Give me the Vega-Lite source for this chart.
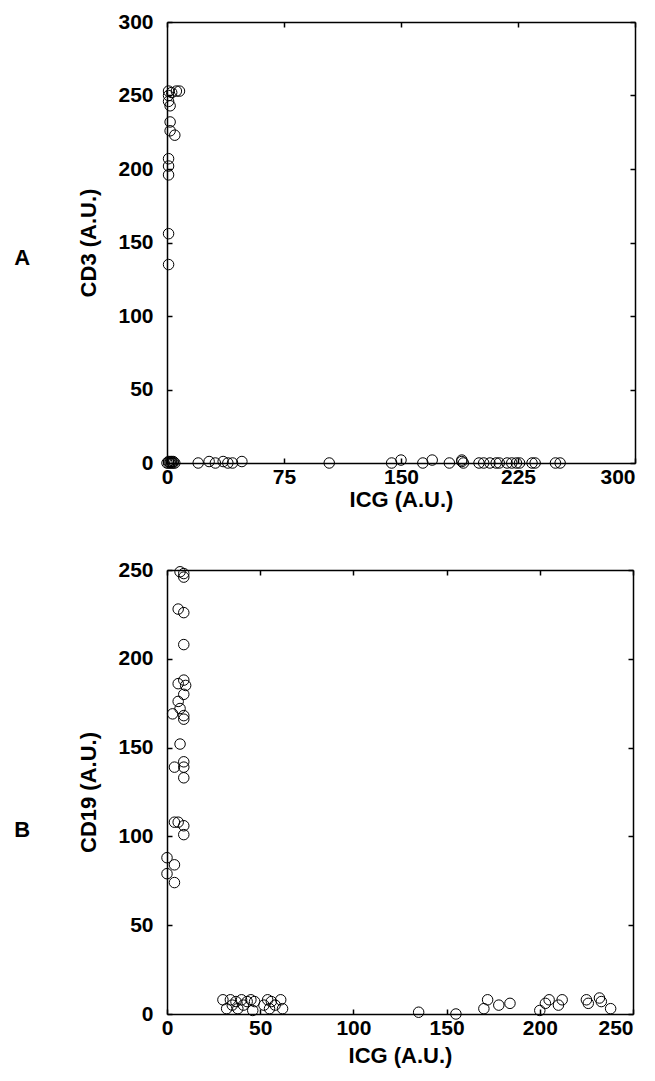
{
  "$schema": "https://vega.github.io/schema/vega-lite/v6.json",
  "background": "white",
  "padding": {"left": 14, "top": 11, "right": 5, "bottom": 5},
  "config": {
    "font": "Liberation Sans",
    "view": {"stroke": null},
    "axis": {
      "grid": false,
      "domainColor": "black",
      "domainWidth": 1.5,
      "tickColor": "black",
      "tickWidth": 1.5,
      "tickSize": -5,
      "labelFlush": false,
      "labelFont": "Liberation Sans",
      "labelFontWeight": "bold",
      "labelFontSize": 21,
      "labelColor": "black",
      "labelPadding": 19,
      "titleFont": "Liberation Sans",
      "titleFontWeight": "bold",
      "titleFontSize": 22,
      "titleColor": "black"
    },
    "axisX": {"labelPadding": 8},
    "axisY": {"titlePadding": 17}
  },
  "datasets": {
    "a": [
      {"ICG": 1, "CD": 253}, {"ICG": 3, "CD": 252}, {"ICG": 6, "CD": 253}, {"ICG": 8, "CD": 253},
      {"ICG": 1, "CD": 250}, {"ICG": 1, "CD": 246}, {"ICG": 2, "CD": 243}, {"ICG": 2, "CD": 232},
      {"ICG": 2, "CD": 226}, {"ICG": 5, "CD": 223}, {"ICG": 1, "CD": 207}, {"ICG": 1, "CD": 202},
      {"ICG": 1, "CD": 196}, {"ICG": 1, "CD": 156}, {"ICG": 1, "CD": 135},
      {"ICG": 0, "CD": 0}, {"ICG": 1, "CD": 1}, {"ICG": 2, "CD": 0}, {"ICG": 3, "CD": 1},
      {"ICG": 4, "CD": 0}, {"ICG": 5, "CD": 0}, {"ICG": 1, "CD": 0}, {"ICG": 3, "CD": 0},
      {"ICG": 2, "CD": 1}, {"ICG": 4, "CD": 1},
      {"ICG": 20, "CD": 0}, {"ICG": 27, "CD": 1}, {"ICG": 31, "CD": 0}, {"ICG": 36, "CD": 1},
      {"ICG": 39, "CD": 0}, {"ICG": 42, "CD": 0}, {"ICG": 48, "CD": 1}, {"ICG": 104, "CD": 0},
      {"ICG": 144, "CD": 0}, {"ICG": 150, "CD": 2}, {"ICG": 164, "CD": 0}, {"ICG": 170, "CD": 2},
      {"ICG": 181, "CD": 0}, {"ICG": 189, "CD": 1}, {"ICG": 189, "CD": 2}, {"ICG": 190, "CD": 0},
      {"ICG": 200, "CD": 0}, {"ICG": 203, "CD": 0}, {"ICG": 207, "CD": 0}, {"ICG": 211, "CD": 0},
      {"ICG": 213, "CD": 0}, {"ICG": 218, "CD": 0}, {"ICG": 221, "CD": 0}, {"ICG": 224, "CD": 0},
      {"ICG": 226, "CD": 0}, {"ICG": 234, "CD": 0}, {"ICG": 236, "CD": 0}, {"ICG": 249, "CD": 0},
      {"ICG": 252, "CD": 0}
    ],
    "b": [
      {"ICG": 7, "CD": 249}, {"ICG": 9, "CD": 248}, {"ICG": 9, "CD": 246}, {"ICG": 6, "CD": 228},
      {"ICG": 9, "CD": 226}, {"ICG": 9, "CD": 208}, {"ICG": 9, "CD": 188}, {"ICG": 6, "CD": 186},
      {"ICG": 10, "CD": 185}, {"ICG": 9, "CD": 180}, {"ICG": 6, "CD": 176}, {"ICG": 7, "CD": 172},
      {"ICG": 3, "CD": 169}, {"ICG": 9, "CD": 168}, {"ICG": 9, "CD": 166}, {"ICG": 7, "CD": 152},
      {"ICG": 9, "CD": 142}, {"ICG": 4, "CD": 139}, {"ICG": 9, "CD": 139}, {"ICG": 9, "CD": 133},
      {"ICG": 4, "CD": 108}, {"ICG": 6, "CD": 108}, {"ICG": 9, "CD": 106}, {"ICG": 9, "CD": 101},
      {"ICG": 0, "CD": 88}, {"ICG": 4, "CD": 84}, {"ICG": 0, "CD": 79}, {"ICG": 4, "CD": 74},
      {"ICG": 30, "CD": 8}, {"ICG": 32, "CD": 3}, {"ICG": 34, "CD": 8}, {"ICG": 35, "CD": 5},
      {"ICG": 37, "CD": 7}, {"ICG": 38, "CD": 3}, {"ICG": 40, "CD": 8}, {"ICG": 41, "CD": 5},
      {"ICG": 43, "CD": 7}, {"ICG": 45, "CD": 8}, {"ICG": 46, "CD": 2}, {"ICG": 47, "CD": 7},
      {"ICG": 52, "CD": 5}, {"ICG": 54, "CD": 8}, {"ICG": 55, "CD": 3}, {"ICG": 56, "CD": 7},
      {"ICG": 58, "CD": 5}, {"ICG": 61, "CD": 8}, {"ICG": 62, "CD": 3},
      {"ICG": 135, "CD": 1}, {"ICG": 155, "CD": 0}, {"ICG": 170, "CD": 3}, {"ICG": 172, "CD": 8},
      {"ICG": 178, "CD": 5}, {"ICG": 184, "CD": 6}, {"ICG": 200, "CD": 2}, {"ICG": 203, "CD": 6},
      {"ICG": 205, "CD": 8}, {"ICG": 210, "CD": 5}, {"ICG": 212, "CD": 8}, {"ICG": 225, "CD": 8},
      {"ICG": 226, "CD": 6}, {"ICG": 232, "CD": 9}, {"ICG": 233, "CD": 7}, {"ICG": 238, "CD": 3}
    ]
  },
  "spacing": 49,
  "vconcat": [
    {
      "title": {"text": "A", "orient": "left", "angle": 0, "fontSize": 22, "fontWeight": "bold", "font": "Liberation Sans", "color": "black", "offset": 40, "dy": 5},
      "width": 468,
      "height": 441,
      "data": {"name": "a"},
      "resolve": {"axis": {"x": "independent", "y": "independent"}},
      "layer": [
        {
          "mark": {"type": "point", "shape": "circle", "filled": false, "color": "black", "size": 110, "strokeWidth": 1, "opacity": 1, "clip": false},
          "encoding": {
            "x": {"field": "ICG", "type": "quantitative", "scale": {"domain": [0, 300], "nice": false, "zero": false, "padding": 0},
                  "axis": {"values": [0, 75, 150, 225, 300], "title": "ICG (A.U.)", "titlePadding": 2,
                           "labelAlign": {"condition": {"test": "datum.value == 300", "value": "right"}, "value": "center"}}},
            "y": {"field": "CD", "type": "quantitative", "scale": {"domain": [0, 300], "nice": false, "zero": false, "padding": 0},
                  "axis": {"values": [0, 50, 100, 150, 200, 250, 300], "title": "CD3 (A.U.)"}}
          }
        },
        {
          "mark": {"type": "point", "opacity": 0},
          "encoding": {
            "x": {"field": "ICG", "type": "quantitative", "scale": {"domain": [0, 300], "nice": false, "zero": false, "padding": 0},
                  "axis": {"orient": "top", "values": [0, 75, 150, 225, 300], "labels": false, "title": null}},
            "y": {"field": "CD", "type": "quantitative", "scale": {"domain": [0, 300], "nice": false, "zero": false, "padding": 0},
                  "axis": {"orient": "right", "values": [0, 50, 100, 150, 200, 250, 300], "labels": false, "title": null}}
          }
        }
      ]
    },
    {
      "title": {"text": "B", "orient": "left", "angle": 0, "fontSize": 22, "fontWeight": "bold", "font": "Liberation Sans", "color": "black", "offset": 40, "dy": 28},
      "width": 466,
      "height": 444,
      "data": {"name": "b"},
      "resolve": {"axis": {"x": "independent", "y": "independent"}},
      "layer": [
        {
          "mark": {"type": "point", "shape": "circle", "filled": false, "color": "black", "size": 110, "strokeWidth": 1, "opacity": 1, "clip": false},
          "encoding": {
            "x": {"field": "ICG", "type": "quantitative", "scale": {"domain": [0, 250], "nice": false, "zero": false, "padding": 0},
                  "axis": {"values": [0, 50, 100, 150, 200, 250], "title": "ICG (A.U.)", "titlePadding": 7,
                           "labelAlign": {"condition": {"test": "datum.value == 250", "value": "right"}, "value": "center"}}},
            "y": {"field": "CD", "type": "quantitative", "scale": {"domain": [0, 250], "nice": false, "zero": false, "padding": 0},
                  "axis": {"values": [0, 50, 100, 150, 200, 250], "title": "CD19 (A.U.)"}}
          }
        },
        {
          "mark": {"type": "point", "opacity": 0},
          "encoding": {
            "x": {"field": "ICG", "type": "quantitative", "scale": {"domain": [0, 250], "nice": false, "zero": false, "padding": 0},
                  "axis": {"orient": "top", "values": [0, 50, 100, 150, 200, 250], "labels": false, "title": null}},
            "y": {"field": "CD", "type": "quantitative", "scale": {"domain": [0, 250], "nice": false, "zero": false, "padding": 0},
                  "axis": {"orient": "right", "values": [0, 50, 100, 150, 200, 250], "labels": false, "title": null}}
          }
        }
      ]
    }
  ]
}
